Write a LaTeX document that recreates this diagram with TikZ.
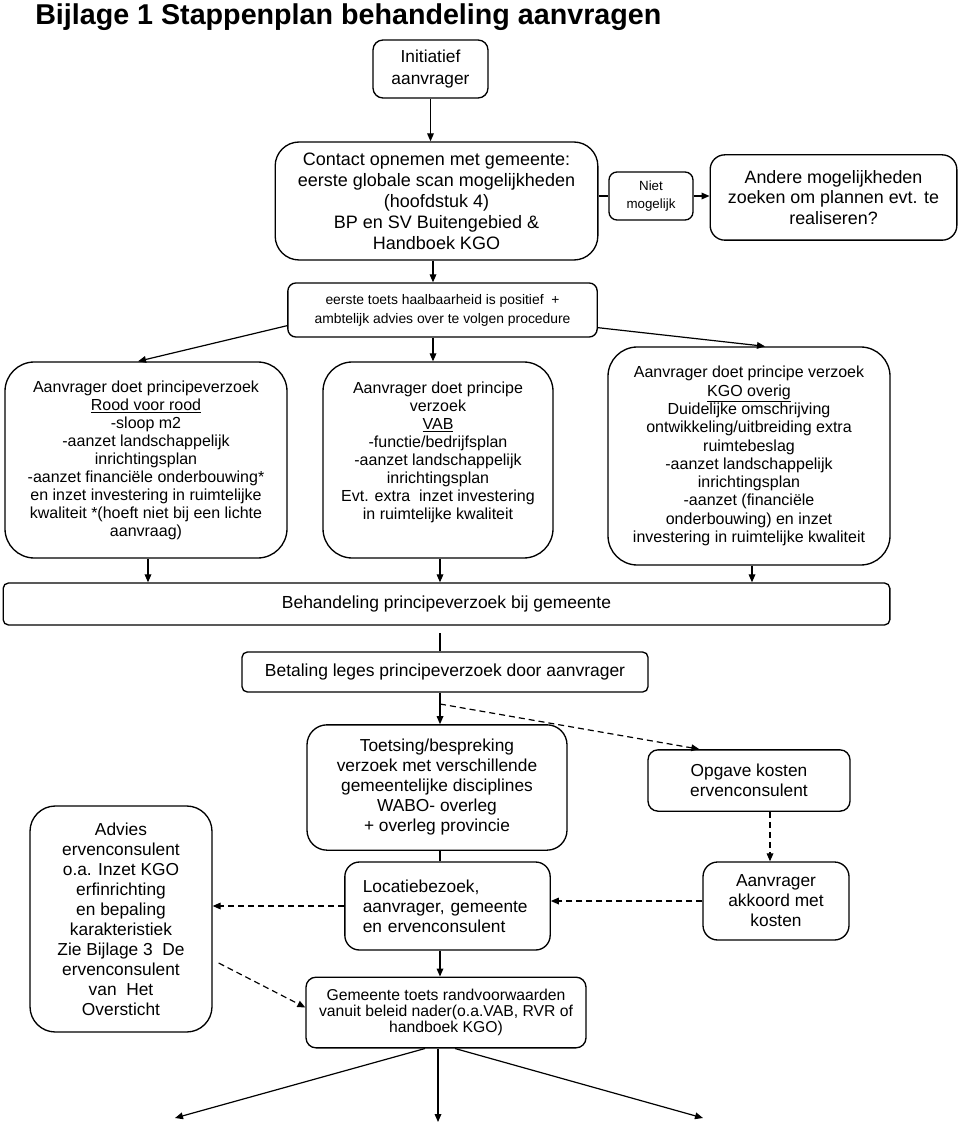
\documentclass[tikz,border=0pt]{standalone}
\usepackage{fontspec}
\setmainfont{Liberation Sans}
\usetikzlibrary{calc}
\usetikzlibrary{positioning,arrows.meta}
\newcommand{\fsz}[2]{\fontsize{#1}{#2}\selectfont}

\begin{document}
\begin{tikzpicture}[x=0.75pt,y=-0.75pt,
    stepbox/.style={rectangle, draw, line width=1pt, rounded corners=#1, align=center, inner sep=0pt},
    arr/.style={-{Triangle[length=6pt,width=5pt]}, line width=0.9pt},
    dasharr/.style={arr, dash pattern=on 4.5pt off 3pt},
    link/.style={line width=0.9pt}]
        \useasboundingbox (0,0) rectangle (960,1126);

        %% Title
        \node[anchor=base west, inner sep=0pt, font=\fsz{21.5}{26}\bfseries] (title) at (35,25) {Bijlage 1 Stappenplan behandeling aanvragen};

        %% Start
        \node[stepbox=7.5pt, minimum width=86.25pt, minimum height=43.5pt, font=\fsz{13}{16.5}] (init) at (430.5,69) {Initiatief\\aanvrager};
        \node[stepbox=18pt, minimum width=242pt, minimum height=88.5pt, font=\fsz{13.5}{15.75}] (contact) at (436.5,201) {Contact opnemen met gemeente:\\eerste globale scan mogelijkheden\\(hoofdstuk 4)\\BP en SV Buitengebied \&\\Handboek KGO};
        \node[stepbox=6pt, minimum width=63pt, minimum height=36pt, font=\fsz{10}{13.5}] (niet) at (651,196) {Niet\\mogelijk};
        \node[stepbox=11pt, minimum width=185pt, minimum height=64pt, font=\fsz{13.4}{15.4}] (andere) at (833.5,197.5) {Andere mogelijkheden\\zoeken om plannen evt. te\\realiseren?};
        \node[stepbox=6pt, minimum width=232pt, minimum height=40.5pt, font=\fsz{10.4}{14.25}] (toets) at (442.5,310) {eerste toets haalbaarheid is positief\ \ +\\ambtelijk advies over te volgen procedure};

        \draw[arr] (init.south) -- (init.south |- contact.north);
        \draw[link] (contact.east |- niet.west) -- (niet.west);
        \draw[arr] (niet.east) -- (niet.east -| andere.west);
        \coordinate (c1) at (433,0);
        \draw[arr] (c1 |- contact.south) -- (c1 |- toets.north);

        %% Principeverzoeken
        \node[stepbox=22pt, minimum width=211.5pt, minimum height=147pt, font=\fsz{12}{13.5}] (rood) at (146,460) {Aanvrager doet principeverzoek\\\underline{Rood voor rood}\\-sloop m2\\-aanzet landschappelijk\\inrichtingsplan\\-aanzet financiële onderbouwing*\\en inzet investering in ruimtelijke\\kwaliteit *(hoeft niet bij een lichte\\aanvraag)};
        \node[stepbox=22pt, minimum width=172.5pt, minimum height=147pt, font=\fsz{12}{13.5}] (vab) at (438,460) {Aanvrager doet principe\\verzoek\\\underline{VAB}\\-functie/bedrijfsplan\\-aanzet landschappelijk\\inrichtingsplan\\Evt. extra\ \ inzet investering\\in ruimtelijke kwaliteit\\\mbox{}};
        \node[stepbox=22pt, minimum width=211.5pt, minimum height=163.5pt, font=\fsz{12}{13.7}] (kgo) at (749,456) {Aanvrager doet principe verzoek\\\underline{KGO overig}\\Duidelijke omschrijving\\ontwikkeling/uitbreiding extra\\ruimtebeslag\\-aanzet landschappelijk\\inrichtingsplan\\-aanzet (financiële\\onderbouwing) en inzet\\investering in ruimtelijke kwaliteit};

        \draw[arr] ($(toets.south west)+(0,-12)$) -- ($(rood.north)+(-8,0)$);
        \draw[arr] (c1 |- toets.south) -- (c1 |- vab.north);
        \draw[arr] ($(toets.south east)+(0,-10)$) -- ($(kgo.north)+(16,0)$);

        %% Behandeling
        \node[stepbox=4pt, minimum width=665pt, minimum height=31.5pt, font=\fsz{13.1}{15}] (behandeling) at (446.5,604) {Behandeling principeverzoek bij gemeente};
        \node[stepbox=4pt, minimum width=304.5pt, minimum height=30pt, font=\fsz{13.1}{15}] (betaling) at (445,672) {Betaling leges principeverzoek door aanvrager};

        \coordinate (c2) at (148,0);
        \coordinate (c3) at (440,0);
        \coordinate (c4) at (752,0);
        \draw[arr] (c2 |- rood.south) -- (c2 |- behandeling.north);
        \draw[arr] (c3 |- vab.south) -- (c3 |- behandeling.north);
        \draw[arr] (c4 |- kgo.south) -- (c4 |- behandeling.north);
        \coordinate (gap) at (440,633);
        \draw[link] (gap) -- (gap |- betaling.north);

        %% Toetsing en ervenconsulent
        \node[stepbox=15pt, minimum width=195pt, minimum height=94pt, font=\fsz{13}{15}] (toetsing) at (437,787.5) {Toetsing/bespreking\\verzoek met verschillende\\gemeentelijke disciplines\\WABO- overleg\\+ overleg provincie};
        \node[stepbox=7.5pt, minimum width=151.5pt, minimum height=46pt, font=\fsz{13}{15}] (opgave) at (749,780.5) {Opgave kosten\\ervenconsulent};
        \node[stepbox=11pt, minimum width=154pt, minimum height=66pt, text width=127pt, align=left, font=\fsz{13}{15}] (locatie) at (447.5,906) {Locatiebezoek,\\aanvrager, gemeente\\en ervenconsulent};
        \node[stepbox=11pt, minimum width=109.5pt, minimum height=58.5pt, font=\fsz{13}{15}] (akkoord) at (776,901) {Aanvrager\\akkoord met\\kosten};
        \node[stepbox=19pt, minimum width=136.5pt, minimum height=169.5pt, font=\fsz{13}{15}] (advies) at (121,919) {Advies\\ervenconsulent\\o.a. Inzet KGO\\erfinrichting\\en bepaling\\karakteristiek\\Zie Bijlage 3\ \ De\\ervenconsulent\\van\ \ Het\\Oversticht};
        \node[stepbox=7.5pt, minimum width=210pt, minimum height=53pt, font=\fsz{11.8}{11.8}] (gemeente) at (446,1012.5) {Gemeente toets randvoorwaarden\\vanuit beleid nader(o.a.VAB, RVR of\\handboek KGO)};

        \coordinate (split) at (440,704);
        \draw[arr] (c3 |- betaling.south) -- (c3 |- toetsing.north);
        \draw[dasharr] (split) -- ($(opgave.north west)+(52,0)$);
        \coordinate (c5) at (770,0);
        \draw[dasharr] (c5 |- opgave.south) -- (c5 |- akkoord.north);
        \draw[dasharr] (akkoord.west) -- (akkoord.west -| locatie.east);
        \draw[dasharr] (locatie.west) -- (locatie.west -| advies.east);
        \draw[link] (c3 |- toetsing.south) -- (c3 |- locatie.north);
        \draw[arr] (c3 |- locatie.south) -- (c3 |- gemeente.north);
        \coordinate (adv) at ($(advies.east)+(6,44)$);
        \draw[dasharr] (adv) -- ($(gemeente.west)+(0,-5)$);

        %% Vervolg
        \coordinate (outL) at (175,1118);
        \coordinate (outM) at (438,1122);
        \coordinate (outR) at (703,1118);
        \draw[arr] ($(gemeente.south)+(-21,0)$) -- (outL);
        \draw[arr] ($(gemeente.south)+(-8,0)$) -- (outM);
        \draw[arr] ($(gemeente.south)+(9,0)$) -- (outR);
\end{tikzpicture}
\end{document}
